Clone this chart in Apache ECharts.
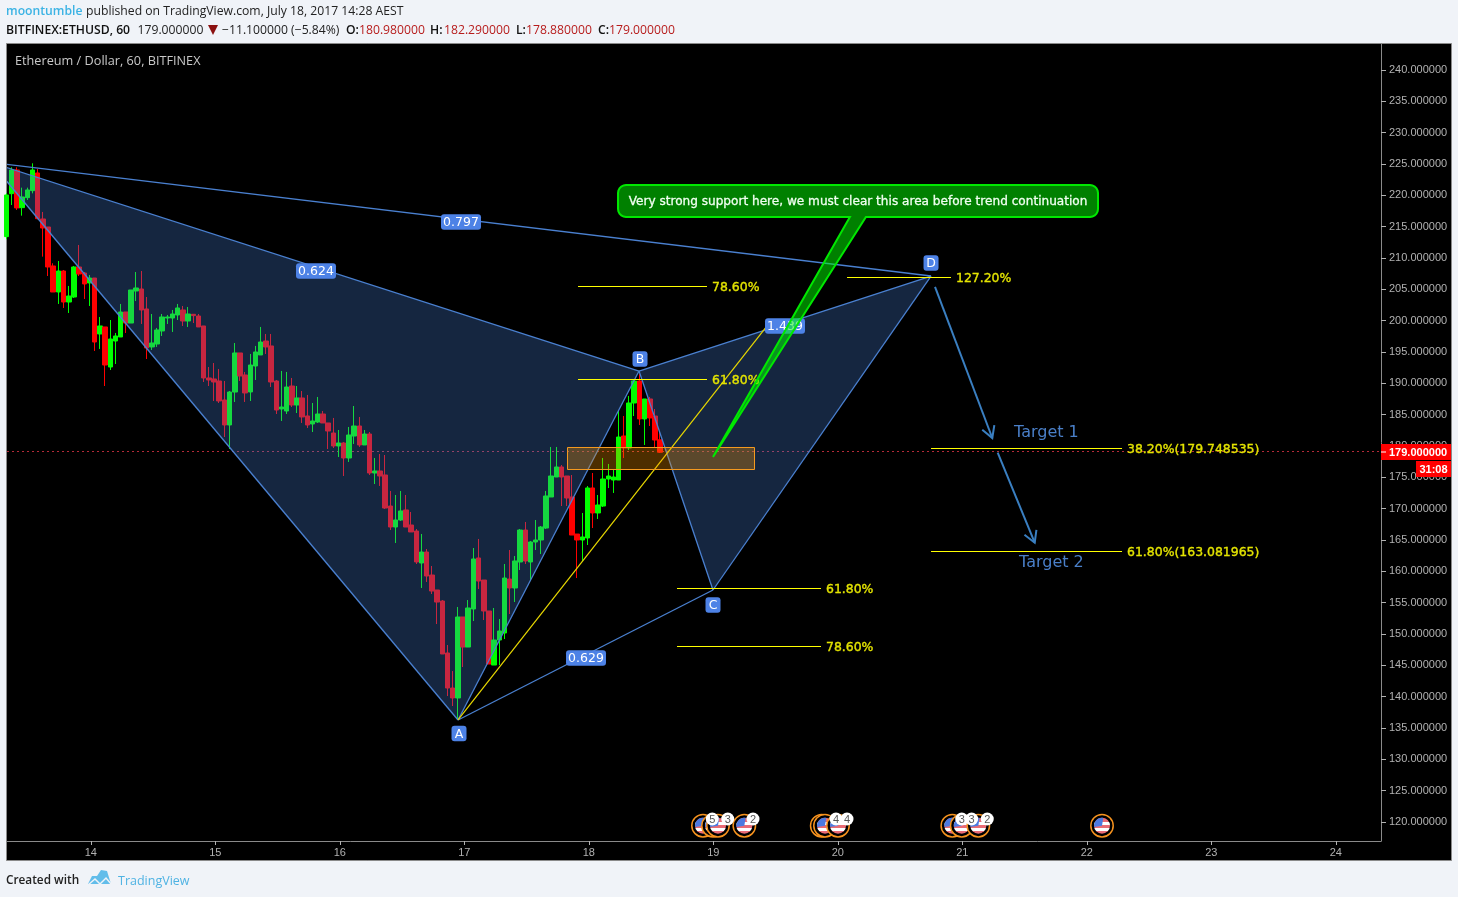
<!DOCTYPE html>
<html><head><meta charset="utf-8">
<style>html,body{margin:0;padding:0;background:#f0f3f8}#c{width:1458px;height:897px}</style>
<script src="https://cdn.jsdelivr.net/npm/echarts@6/dist/echarts.min.js"></script>
</head><body><div id="c"></div>
<script>
// Hourly candles: [open, close, low, high]; hour values count from 13 July 00:00
const firstCandleHour = 7.75;
const candles = [
[213.40,220.05,213.00,220.30],[220.26,224.04,218.45,224.46],[224.04,217.98,217.66,224.46],[218.03,219.73,216.75,221.22],
[219.62,220.85,219.25,221.22],[220.74,224.04,220.31,225.10],[223.56,216.27,216.17,224.20],[216.22,214.78,210.21,217.34],
[214.94,208.56,207.12,214.94],[208.72,204.57,204.57,209.15],[204.57,207.92,202.66,209.52],[207.92,202.97,202.02,208.08],
[202.97,203.93,201.22,205.53],[203.77,208.56,203.61,208.72],[208.56,207.44,207.12,212.07],[207.60,205.85,203.45,207.76],
[206.01,206.80,202.34,207.28],[206.80,196.59,195.16,206.80],[197.87,199.15,195.48,200.58],[198.99,192.92,189.57,198.99],
[192.60,197.07,192.12,200.10],[196.75,197.55,193.08,198.03],[197.39,201.38,197.39,202.66],[201.38,199.62,198.03,201.38],
[199.62,204.89,199.62,204.89],[204.73,205.21,203.13,207.76],[205.05,201.70,199.47,207.92],[201.86,195.64,193.88,203.77],
[195.80,196.43,195.32,201.06],[196.27,198.51,195.80,198.83],[198.35,200.58,197.55,201.06],[200.42,200.58,199.47,200.90],
[200.42,201.06,198.19,201.70],[200.90,202.02,200.10,202.66],[201.70,199.94,199.15,202.34],[199.94,201.06,198.99,202.18],
[201.01,200.80,199.62,201.06],[200.74,198.99,198.99,201.06],[199.15,190.85,190.21,199.15],[190.85,190.53,189.57,192.60],
[190.69,190.21,187.18,193.24],[190.37,187.18,186.86,192.28],[187.34,183.35,181.43,190.37],[183.35,188.61,179.52,188.77],
[188.61,194.84,187.02,196.43],[194.84,191.17,190.37,194.84],[191.33,188.46,187.02,191.81],[188.62,192.92,187.18,194.68],
[192.76,195.00,190.53,195.96],[194.52,196.59,194.52,198.99],[196.75,195.80,194.68,197.87],[195.96,190.21,189.41,197.87],
[190.37,185.74,185.10,190.53],[185.90,186.22,183.99,191.97],[185.58,189.41,185.10,191.81],[189.57,186.54,186.22,190.85],
[186.54,187.66,185.26,189.57],[187.66,184.63,183.67,188.77],[184.79,183.35,182.87,188.14],[183.51,183.99,182.23,186.86],
[183.83,185.10,183.67,187.82],[185.10,183.67,183.67,185.58],[183.67,182.39,179.52,183.67],[182.07,180.00,179.68,184.47],
[180.00,180.48,178.24,182.55],[180.48,178.08,175.21,180.64],[178.08,181.75,177.45,183.03],[181.59,183.19,180.32,186.38],
[183.19,180.16,179.84,184.63],[180.16,181.91,180.16,182.55],[181.91,175.69,175.37,182.23],[175.69,176.01,173.93,178.08],
[176.01,175.21,173.62,178.72],[175.37,170.10,169.95,178.56],[170.42,167.07,166.59,172.82],[167.07,168.19,164.52,172.18],
[168.19,169.63,168.03,172.82],[169.79,167.07,167.07,172.18],[167.39,166.28,166.28,169.47],[166.43,161.49,161.17,166.75],
[161.33,163.08,157.34,165.96],[163.08,159.25,158.30,163.56],[159.41,156.86,156.38,160.85],[157.02,155.10,151.59,157.02],
[155.26,146.81,146.81,155.42],[146.97,141.38,140.10,148.24],[141.38,139.79,138.51,144.09],[139.79,152.71,136.43,154.31],
[152.71,147.92,144.73,152.71],[147.92,154.15,147.92,155.42],[153.99,161.97,152.07,163.72],[162.13,158.45,157.18,165.16],
[158.61,153.67,152.23,158.61],[153.67,145.21,145.21,153.67],[145.05,149.04,145.05,154.15],[149.04,150.48,145.05,152.39],
[150.16,158.93,149.20,161.17],[158.77,157.34,153.19,163.40],[157.34,161.65,155.10,162.44],[161.49,166.59,160.21,166.75],
[166.59,161.65,161.17,167.87],[161.49,164.68,158.45,164.84],[164.68,165.00,163.40,168.19],[165.00,167.07,162.76,167.23],
[166.91,172.02,166.75,172.82],[171.86,175.21,171.86,179.84],[175.05,176.65,175.05,179.84],[176.65,175.05,170.42,176.96],
[175.21,171.70,170.42,175.21],[171.86,165.79,165.79,175.37],[165.95,165.00,158.93,165.95],[165.00,165.48,161.65,169.31],
[165.32,173.30,164.20,173.61],[173.30,169.31,166.91,175.69],[169.31,170.58,168.35,172.18],[170.42,174.73,170.26,178.08],
[174.73,175.21,173.29,177.13],[174.57,175.05,172.50,176.17],[174.57,181.43,174.57,185.58],[181.59,179.68,178.08,184.78],
[179.68,186.86,179.36,187.98],[186.86,190.37,184.78,190.53],[190.37,184.31,183.35,191.49],[184.31,187.50,180.16,187.50],
[187.50,184.47,183.19,187.82],[184.78,180.95,179.68,185.90],[180.98,179.00,178.88,182.29]
];
const lastPrice = 179;
const lastPriceText = '179.000000';
const countdownText = '31:08';

// Axis
const xRange = [7.846, 272.71];
const yRange = [116.97, 244.14];
const dayHours = [24,48,72,96,120,144,168,192,216,240,264];
const dayLabels = ['14','15','16','17','18','19','20','21','22','23','24'];
const priceTicks = [120,125,130,135,140,145,150,155,160,165,170,175,180,185,190,195,200,205,210,215,220,225,230,235,240];

// XABCD pattern points [hour, price]
const pX = [4.76,225.23], pA = [94.79,136.28], pB = [129.68,191.96], pC = [143.94,157.02], pD = [185.97,207.12];
const patternLabels = [
  [95.36,215.74,'0.797'],[67.41,207.92,'0.624'],[157.82,199.15,'1.439'],[119.46,146.17,'0.629'],
  [94.98,134.12,'A'],[129.87,193.88,'B'],[143.94,154.63,'C'],[185.97,209.20,'D']
];
const diagonal = [[94.79,136.28],[154.93,199.78]];
// Fibonacci levels: [from hour, to hour, price, text]
const fibLevels = [
  [117.92,142.79,205.53,'78.60%'],
  [117.92,142.79,190.65,'61.80%'],
  [169.78,189.82,206.96,'127.20%'],
  [185.97,222.79,179.75,'38.20%(179.748535)'],
  [185.97,222.79,163.19,'61.80%(163.081965)'],
  [137.00,164.76,157.30,'61.80%'],
  [137.00,164.76,148.03,'78.60%']
];
const supportZone = [[115.86,179.79],[151.98,176.28]];
const arrows = [
  [[186.74,205.37],[197.78,181.27]],
  [[198.82,178.93],[205.96,164.57]]
];
const targets = [[201.97,182.23,'Target 1'],[202.93,161.49,'Target 2']];
const calloutText = 'Very strong support here, we must clear this area before trend continuation';
const calloutBox = [[125.63,221.64],[218.16,216.54]];
const calloutTail = [[173.42,216.54],[143.94,178.24],[170.33,216.54]];
const eventPrice = 119.41, badgePrice = 120.48;
const eventHours = [142.01,143.94,144.9,149.98,164.9,165.53,168.04,190.07,191.89,195.09,218.93];
const badges = [[143.8,'5'],[146.78,'3'],[151.65,'2'],[167.65,'4'],[169.77,'4'],[191.89,'3'],[193.8,'3'],[196.81,'2']];

const SANS = '"Open Sans", sans-serif';
const DJ = '"DejaVu Sans", sans-serif';
const ARIAL = '"Liberation Sans", Arial, sans-serif';
const LINE = '#4a80d0';
const FIB = '#e4e400';
const rows = candles.map((c,i)=>[firstCandleHour+i,c[0],c[1],c[2],c[3]]);

function overlay(z, clip, draw){
  return {type:'custom', coordinateSystem:'cartesian2d', z, clip, silent:true, data:[[xRange[0],yRange[0]]],
    renderItem:(params,api)=>({type:'group', children:draw(api)})};
}
const seg=(api,a,b,stroke,lineWidth,extra)=>{const p=api.coord(a),q=api.coord(b);
  return {type:'line',shape:{x1:p[0],y1:p[1],x2:q[0],y2:q[1]},style:Object.assign({stroke,lineWidth,fill:null},extra||{})};};
const crisp=y=>Math.round(y)+0.5;

function arrowHead(p,q,len){
  const a=Math.atan2(q[1]-p[1],q[0]-p[0]);
  return [[q[0]-len*Math.cos(a-0.52),q[1]-len*Math.sin(a-0.52)],q,[q[0]-len*Math.cos(a+0.52),q[1]-len*Math.sin(a+0.52)]];
}
function roundedCallout(api){
  const a=api.coord(calloutBox[0]),b=api.coord(calloutBox[1]);
  const r=8,pts=[],arc=(cx,cy,s)=>{for(let k=0;k<=5;k++){const t=s+k*Math.PI/10;pts.push([cx+r*Math.cos(t),cy+r*Math.sin(t)]);}};
  arc(a[0]+r,a[1]+r,Math.PI);arc(b[0]-r,a[1]+r,1.5*Math.PI);arc(b[0]-r,b[1]-r,0);
  calloutTail.forEach(t=>pts.push(api.coord(t)));
  arc(a[0]+r,b[1]-r,0.5*Math.PI);
  return pts;
}

const series=[
  overlay(1,true,api=>{const p=api.coord([xRange[0],lastPrice]),q=api.coord([xRange[1],lastPrice]);
    const y=Math.round(p[1])-0.5;
    return [{type:'line',shape:{x1:p[0],y1:y,x2:q[0],y2:y},style:{stroke:'#b52a38',lineWidth:1,lineDash:[2,3]}}];}),
  {type:'candlestick',z:2,barWidth:5,silent:true,clip:true,data:rows,encode:{x:0,y:[1,2,3,4]},
   itemStyle:{color:'#00ff00',color0:'#ff0000',borderColor:'#00ff00',borderColor0:'#ff0000',borderWidth:1,borderColorDoji:'#00ff00'}},
  overlay(3,true,api=>{
    const poly=pts=>({type:'polygon',shape:{points:pts.map(p=>api.coord(p))},style:{fill:'rgba(70,127,213,0.3)'}});
    return [poly([pX,pA,pB]),poly([pB,pC,pD]),
      seg(api,pX,pA,LINE,1.3),seg(api,pX,pB,LINE,1.3),seg(api,pX,pD,LINE,1.3),seg(api,pA,pB,LINE,1.3),
      seg(api,pB,pC,LINE,1.3),seg(api,pC,pD,LINE,1.3),seg(api,pA,pC,LINE,1.3),seg(api,pB,pD,LINE,1.3)];
  }),
  overlay(4,true,api=>{
    const out=[seg(api,diagonal[0],diagonal[1],'#e8d800',1.2)];
    fibLevels.forEach(l=>{const p=api.coord([l[0],l[2]]),q=api.coord([l[1],l[2]]),y=crisp(p[1]);
      out.push({type:'line',shape:{x1:p[0],y1:y,x2:q[0],y2:y},style:{stroke:'#ffff00',lineWidth:1}});
      out.push({type:'text',x:q[0]+5,y:y+1,style:{text:l[3],fill:FIB,stroke:FIB,lineWidth:0.35,font:'12.45px '+DJ,align:'left',verticalAlign:'middle'}});});
    return out;
  }),
  overlay(5,true,api=>{const a=api.coord(supportZone[0]),b=api.coord(supportZone[1]);
    return [{type:'rect',shape:{x:Math.round(a[0])+.5,y:Math.round(a[1])+.5,width:Math.round(b[0]-a[0]),height:Math.round(b[1]-a[1])},
      style:{fill:'rgba(255,152,0,0.3)',stroke:'#f59a1f',lineWidth:1}}];}),
  overlay(6,true,api=>{
    const out=[];
    arrows.forEach(ar=>{const p=api.coord(ar[0]),q=api.coord(ar[1]);
      out.push({type:'line',shape:{x1:p[0],y1:p[1],x2:q[0],y2:q[1]},style:{stroke:'#3a7fc1',lineWidth:2}});
      out.push({type:'polyline',shape:{points:arrowHead(p,q,13)},style:{stroke:'#3a7fc1',lineWidth:2,fill:null}});});
    targets.forEach(t=>{const p=api.coord([t[0],t[1]]);
      out.push({type:'text',x:p[0],y:p[1]+1,style:{text:t[2],fill:'#4a7fc8',font:'16px '+DJ,align:'left',verticalAlign:'middle'}});});
    return out;
  }),
  overlay(7,true,api=>{
    const out=[];
    patternLabels.forEach(l=>{const p=api.coord([l[0],l[1]]),w=l[2].length>1?40:15,h=15.5;
      out.push({type:'rect',shape:{x:p[0]-w/2,y:p[1]-h/2,width:w,height:h,r:3},style:{fill:'#4d82e6'}});
      out.push({type:'text',x:p[0],y:p[1]+1,style:{text:l[2],fill:'#ffffff',font:'12.5px '+DJ,align:'center',verticalAlign:'middle'}});});
    return out;
  }),
  overlay(8,true,api=>{
    const a=api.coord(calloutBox[0]),b=api.coord(calloutBox[1]);
    return [{type:'polygon',shape:{points:roundedCallout(api)},style:{fill:'rgba(0,255,0,0.5)',stroke:'#00e800',lineWidth:2}},
      {type:'text',x:(a[0]+b[0])/2,y:(a[1]+b[1])/2+1,style:{text:calloutText,fill:'#f0fff0',stroke:'#f0fff0',lineWidth:0.3,font:'12.1px '+DJ,align:'center',verticalAlign:'middle'}}];
  }),
  overlay(6,true,api=>{
    const out=[];
    eventHours.forEach(h=>{const p=api.coord([h,eventPrice]);
      out.push({type:'circle',shape:{cx:p[0],cy:p[1],r:11.2},style:{fill:'#000',stroke:'#f7931e',lineWidth:1.5}});
      out.push({type:'circle',shape:{cx:p[0],cy:p[1],r:8},style:{fill:new echarts.graphic.LinearGradient(0,0,0,1,[
        {offset:0,color:'#e96b75'},{offset:.25,color:'#e96b75'},{offset:.25,color:'#ffffff'},{offset:.45,color:'#ffffff'},
        {offset:.45,color:'#e96b75'},{offset:.62,color:'#e96b75'},{offset:.62,color:'#ffffff'},{offset:.8,color:'#ffffff'},
        {offset:.8,color:'#e96b75'},{offset:1,color:'#e96b75'}])}});
      out.push({type:'sector',shape:{cx:p[0],cy:p[1],r:8,r0:0,startAngle:Math.PI*0.95,endAngle:Math.PI*1.55},style:{fill:'#4c7ae0'}});
    });
    badges.forEach(b=>{const p=api.coord([b[0],badgePrice]);
      out.push({type:'circle',shape:{cx:p[0],cy:p[1],r:6.5},style:{fill:'#ffffff'}});
      out.push({type:'text',x:p[0],y:p[1]+1,style:{text:b[1],fill:'#555',font:'11px '+ARIAL,align:'center',verticalAlign:'middle'}});});
    return out;
  }),
  overlay(20,false,api=>{
    const p=api.coord([xRange[1],lastPrice]),x=p[0],y=Math.round(p[1]);
    return [
      {type:'rect',shape:{x:x,y:y-8,width:70,height:16},style:{fill:'#ff0000'}},
      {type:'rect',shape:{x:x,y:y-.5,width:5,height:1},style:{fill:'#ffffff'}},
      {type:'text',x:x+8,y:y+1,style:{text:lastPriceText,fill:'#ffffff',font:'bold 11px '+ARIAL,align:'left',verticalAlign:'middle'}},
      {type:'rect',shape:{x:x+35,y:y+9,width:35,height:16},style:{fill:'#ff0000'}},
      {type:'text',x:x+52.5,y:y+18,style:{text:countdownText,fill:'#ffffff',font:'bold 11px '+ARIAL,align:'center',verticalAlign:'middle'}}
    ];
  })
];

const T=(x,y,text,fill,font,extra)=>Object.assign({type:'text',x,y,silent:true,z:10,style:{text,fill,font,align:'left',verticalAlign:'middle'}},extra||{});
const HEAD='12.2px '+SANS, HEADB='600 12.2px '+SANS;
const graphic=[
  {type:'rect',z:-10,silent:true,shape:{x:6.5,y:43.5,width:1445,height:817},style:{fill:'#000000',stroke:'#8a8a8a',lineWidth:1}},
  T(6,12,'moontumble','#3bb3e4','600 12.2px '+SANS),
  T(86,12,'published on TradingView.com, July 18, 2017 14:28 AEST','#222',HEAD),
  T(6,30.5,'BITFINEX:ETHUSD, 60','#111',HEADB),
  T(137.5,30.5,'179.000000','#222',HEAD),
  {type:'polygon',silent:true,z:10,shape:{points:[[208,25],[218,25],[213,35]]},style:{fill:'#8b1010'}},
  T(222,30.5,'\u221211.100000 (\u22125.84%)','#222',HEAD),
  T(346,30.5,'O:','#111',HEADB),T(359,30.5,'180.980000','#b71c1c',HEAD),
  T(430,30.5,'H:','#111',HEADB),T(444,30.5,'182.290000','#b71c1c',HEAD),
  T(516,30.5,'L:','#111',HEADB),T(526,30.5,'178.880000','#b71c1c',HEAD),
  T(598,30.5,'C:','#111',HEADB),T(609,30.5,'179.000000','#b71c1c',HEAD),
  T(15,61,'Ethereum / Dollar, 60, BITFINEX','#c8c8c8','12.7px '+SANS),
  T(6,881,'Created with','#222','600 11.8px '+SANS),
  {type:'polygon',silent:true,z:10,shape:{points:[[88,884],[92,876],[97,876],[101,870],[107,871],[111,884]]},style:{fill:'#62bdea'}},
  {type:'polyline',silent:true,z:11,shape:{points:[[88,885],[95,879],[100,884],[106,878],[112,885]]},style:{stroke:'#f0f3f8',fill:null,lineWidth:1.5}},
  T(118,881,'TradingView','#4fb3e3','12.5px '+SANS)
];

const chart=echarts.init(document.getElementById('c'),null,{renderer:'canvas'});
chart.setOption({
  animation:false,backgroundColor:'#f0f3f8',
  grid:{left:7,right:77,top:44,bottom:56,containLabel:false},
  xAxis:{type:'value',min:xRange[0],max:xRange[1],splitLine:{show:false},
    axisLine:{show:true,onZero:false,lineStyle:{color:'#8a8a8a'}},
    axisTick:{show:true,length:4,lineStyle:{color:'#b2b2b2'},customValues:dayHours},
    axisLabel:{color:'#b2b2b2',fontSize:11,fontFamily:ARIAL,margin:6,customValues:dayHours,
      formatter:v=>dayLabels[dayHours.indexOf(v)]}},
  yAxis:{type:'value',position:'right',min:yRange[0],max:yRange[1],splitLine:{show:false},scale:true,
    axisLine:{show:true,onZero:false,lineStyle:{color:'#8a8a8a'}},
    axisTick:{show:true,length:5,lineStyle:{color:'#b2b2b2'},customValues:priceTicks},
    axisLabel:{color:'#b2b2b2',fontSize:11,fontFamily:ARIAL,margin:8,padding:[4,0,0,0],customValues:priceTicks,formatter:v=>v.toFixed(6)}},
  graphic:{elements:graphic},
  series
});
</script></body></html>
